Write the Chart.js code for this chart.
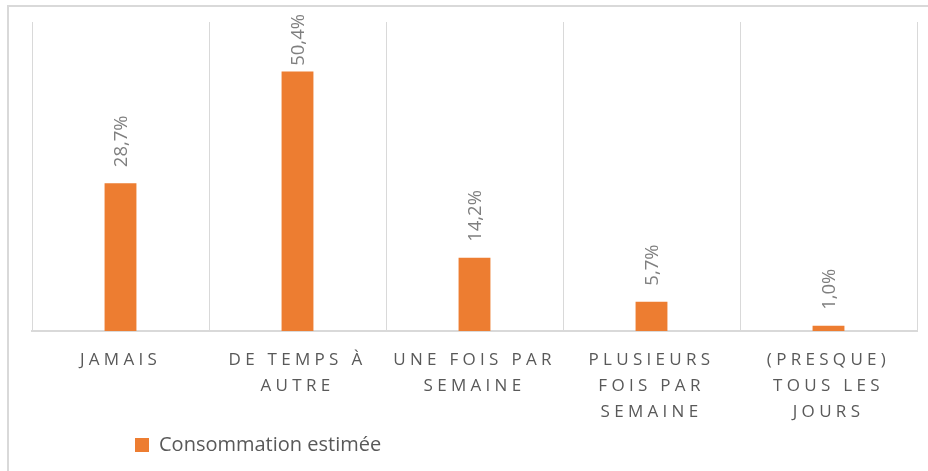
<!DOCTYPE html>
<html>
<head>
<meta charset="utf-8">
<script src="https://cdn.jsdelivr.net/npm/chart.js@4/dist/chart.umd.min.js"></script>
<style>
  html, body { margin: 0; padding: 0; overflow: hidden; background: #fff; }
  #frame { position: absolute; left: 7px; top: 5px; width: 1000px; height: 600px;
           border-top: 2px solid #d9d9d9; border-left: 2px solid #d9d9d9; }
  #wrap { position: absolute; left: 0; top: 0; width: 928px; height: 471px; }
</style>
</head>
<body>
<div id="frame"></div>
<div id="wrap"><canvas id="chart"></canvas></div>
<script>
// categories (already wrapped like the original)
var categories = [
  ['JAMAIS'],
  ['DE TEMPS À', 'AUTRE'],
  ['UNE FOIS PAR', 'SEMAINE'],
  ['PLUSIEURS', 'FOIS PAR', 'SEMAINE'],
  ['(PRESQUE)', 'TOUS LES', 'JOURS']
];
var values = [28.7, 50.4, 14.2, 5.7, 1.0];
var seriesName = 'Consommation estimée';

var FONT = "'Open Sans', sans-serif";

// rotated value labels above the bars
var barLabels = {
  id: 'barLabels',
  afterDatasetsDraw: function(chart){
    var ctx = chart.ctx;
    var bars = chart.getDatasetMeta(0).data;
    ctx.save();
    ctx.font = '18.5px ' + FONT;
    ctx.fillStyle = '#7f7f7f';
    ctx.textAlign = 'left';
    ctx.textBaseline = 'middle';
    for (var i = 0; i < bars.length; i++) {
      var txt = values[i].toFixed(1).replace('.', ',') + '%';
      var w = ctx.measureText(txt).width;
      var end = bars[i].y - 16;
      if (end - w < 14) end = 14 + w;
      ctx.save();
      ctx.translate(bars[i].x + 1, end);
      ctx.rotate(-Math.PI / 2);
      ctx.fillText(txt, 0, 0);
      ctx.restore();
    }
    ctx.restore();
    // wide letter spacing for the category labels (drawn next, z = 1)
    ctx.letterSpacing = '4.3px';
  },
  afterDraw: function(chart){
    chart.ctx.letterSpacing = '0px';
  },
  afterLayout: function(chart){
    // legend sits left of centre in the original
    if (chart.legend) chart.legend.left = 125;
  }
};

new Chart(document.getElementById('chart'), {
  type: 'bar',
  data: {
    labels: categories,
    datasets: [{
      label: seriesName,
      data: values,
      backgroundColor: '#ed7d31',
      borderWidth: 0,
      categoryPercentage: 1,
      barPercentage: 0.18
    }]
  },
  options: {
    responsive: true,
    maintainAspectRatio: false,
    animation: false,
    layout: { padding: { top: 22, left: 32, right: 11, bottom: 6 } },
    scales: {
      x: {
        grid: { display: true, offset: true, drawTicks: false, color: '#d9d9d9', lineWidth: 1 },
        border: { display: true, color: '#d9d9d9', width: 2 },
        ticks: {
          z: 1,
          maxRotation: 0,
          autoSkip: false,
          padding: 16,
          color: '#595959',
          font: { family: FONT, size: 17, lineHeight: '26px' }
        },
        afterFit: function(s){ s.height = 94; }
      },
      y: {
        display: false,
        min: 0,
        max: 60
      }
    },
    plugins: {
      legend: {
        position: 'bottom',
        align: 'start',
        labels: {
          boxWidth: 14,
          boxHeight: 14,
          padding: 10,
          color: '#595959',
          font: { family: FONT, size: 20 }
        }
      },
      tooltip: { enabled: false }
    }
  },
  plugins: [barLabels]
});
</script>
</body>
</html>
